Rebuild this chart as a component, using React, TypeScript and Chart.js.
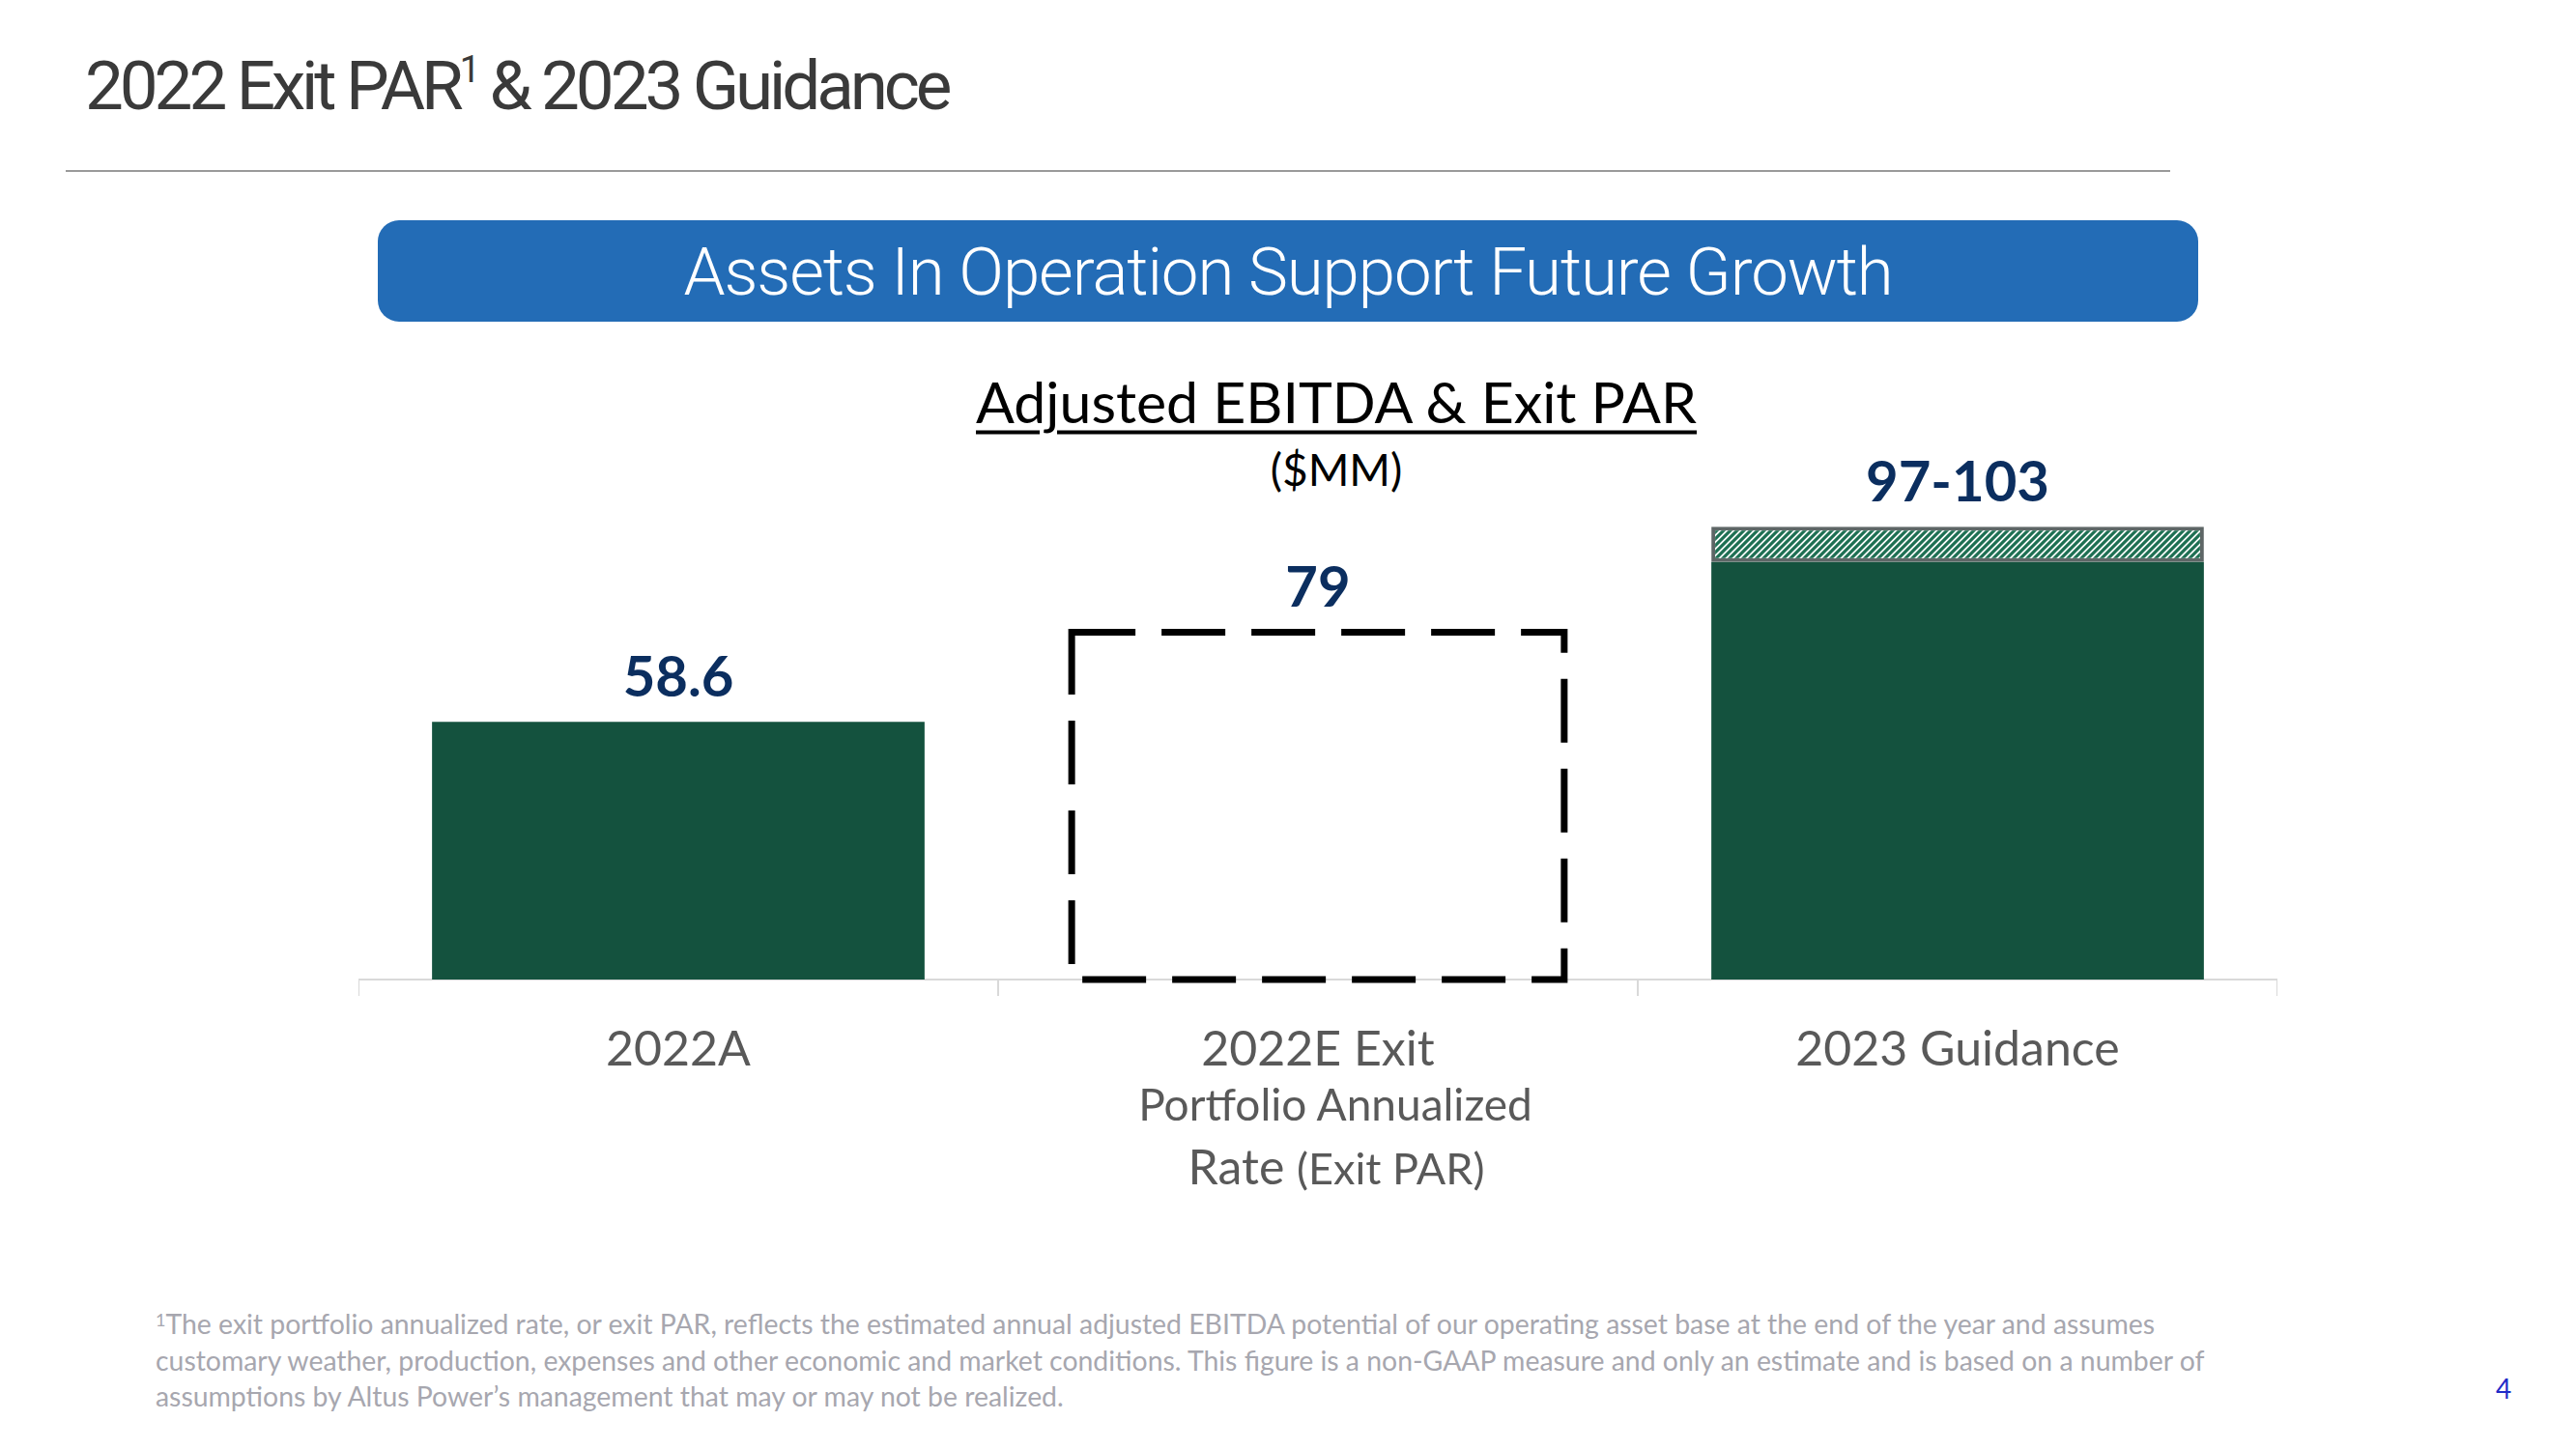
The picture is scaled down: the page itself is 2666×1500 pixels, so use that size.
import React, { useEffect, useRef } from "react";
import { Chart, registerables } from "chart.js";

Chart.register(...registerables);

// ---- data ----
const categories = ["2022A", "2022E Exit", "2023 Guidance"];
const adjustedEbitda: (number | null)[] = [58.6, null, 95];
const exitPar: (number | null)[] = [null, 79, null];
const guidanceRange: (number | null)[] = [null, null, 8]; // stacked on top, up to 103
const valueLabels = ["58.6", "79", "97-103"];
const yMax = 134.7;

const footnoteLines = [
  "The exit portfolio annualized rate, or exit PAR, reflects the estimated annual adjusted EBITDA potential of our operating asset base at the end of the year and assumes",
  "customary weather, production, expenses and other economic and market conditions. This figure is a non-GAAP measure and only an estimate and is based on a number of",
  "assumptions by Altus Power\u2019s management that may or may not be realized.",
];

const GREEN = "#14523E";
const NAVY = "#0B2E5F";

function makeHatch(): CanvasPattern | string {
  const s = 7;
  const c = document.createElement("canvas");
  c.width = s;
  c.height = s;
  const g = c.getContext("2d");
  if (!g) return "#2a7a5e";
  g.fillStyle = "#ffffff";
  g.fillRect(0, 0, s, s);
  g.strokeStyle = "#1d6f52";
  g.lineWidth = 3.2;
  g.beginPath();
  g.moveTo(-1, s + 1);
  g.lineTo(s + 1, -1);
  g.moveTo(-s / 2 - 1, s / 2 + 1);
  g.lineTo(s / 2 + 1, -s / 2 - 1);
  g.moveTo(s / 2 - 1, s * 1.5 + 1);
  g.lineTo(s * 1.5 + 1, s / 2 - 1);
  g.stroke();
  const p = g.createPattern(c, "repeat");
  return p || "#2a7a5e";
}

const dashedPlugin = {
  id: "dashedBar",
  afterDatasetsDraw(chart: any) {
    const meta = chart.getDatasetMeta(1);
    const ctx = chart.ctx;
    meta.data.forEach((el: any, i: number) => {
      if (exitPar[i] == null) return;
      const { x, y, base, width } = el.getProps(["x", "y", "base", "width"], true);
      ctx.save();
      ctx.strokeStyle = "#000000";
      ctx.lineWidth = 7;
      ctx.setLineDash([66, 27]);
      ctx.strokeRect(x - width / 2, y, width, base - y);
      ctx.restore();
    });
  },
};

const valueLabelPlugin = {
  id: "valueLabels",
  afterDatasetsDraw(chart: any) {
    const ctx = chart.ctx;
    categories.forEach((_, i) => {
      let top = Infinity;
      let cx = 0;
      chart.data.datasets.forEach((ds: any, di: number) => {
        if (ds.data[i] == null) return;
        const el = chart.getDatasetMeta(di).data[i];
        const p = el.getProps(["x", "y"], true);
        if (p.y < top) {
          top = p.y;
          cx = p.x;
        }
      });
      if (!isFinite(top)) return;
      ctx.save();
      ctx.fillStyle = NAVY;
      ctx.font = "bold 58px Lato";
      ctx.textAlign = "center";
      ctx.textBaseline = "middle";
      ctx.fillText(valueLabels[i], cx, top - 45);
      ctx.restore();
    });
  },
};

function BarChart() {
  const ref = useRef<HTMLCanvasElement | null>(null);
  useEffect(() => {
    if (!ref.current) return;
    const chart = new Chart(ref.current, {
      type: "bar",
      data: {
        labels: categories,
        datasets: [
          {
            label: "Adjusted EBITDA",
            data: adjustedEbitda,
            backgroundColor: GREEN,
            borderWidth: 0,
          },
          {
            label: "Exit PAR",
            data: exitPar,
            backgroundColor: "rgba(0,0,0,0)",
            borderWidth: 0,
          },
          {
            label: "Guidance range",
            data: guidanceRange,
            backgroundColor: makeHatch() as any,
            borderColor: "#5E6666",
            borderWidth: 4,
            borderSkipped: false,
          },
        ],
      },
      options: {
        animation: false,
        responsive: false,
        maintainAspectRatio: false,
        events: [],
        datasets: { bar: { barPercentage: 0.77, categoryPercentage: 1 } },
        layout: { padding: { left: 0, right: 0, top: 0, bottom: 0 } },
        plugins: {
          legend: { display: false },
          title: { display: false },
          tooltip: { enabled: false },
        },
        scales: {
          x: {
            stacked: true,
            grid: {
              display: true,
              drawOnChartArea: false,
              drawTicks: true,
              tickLength: 17,
              color: "#d9d9d9",
              lineWidth: 2,
              offset: true,
            },
            border: { display: true, color: "#d9d9d9", width: 2 },
            ticks: {
              color: "#595959",
              font: { family: "Lato", size: 50 },
              padding: 26,
              maxRotation: 0,
              autoSkip: false,
            },
          },
          y: { stacked: true, display: false, min: 0, max: yMax },
        },
      },
      plugins: [dashedPlugin, valueLabelPlugin],
    });
    return () => chart.destroy();
  }, []);
  return (
    <canvas
      ref={ref}
      width={1986}
      height={742}
      style={{ position: "absolute", left: 371, top: 401, width: 1986, height: 742 }}
    />
  );
}

const center = (x: number, y: number): React.CSSProperties => ({
  position: "absolute",
  left: x,
  top: y,
  transform: "translate(-50%, -50%)",
  whiteSpace: "nowrap",
  lineHeight: 1,
});

export default function App() {
  return (
    <div
      style={{
        position: "fixed",
        left: 0,
        top: 0,
        width: 2666,
        height: 1500,
        background: "#ffffff",
        overflow: "hidden",
      }}
    >
      {/* page title */}
      <div
        style={{
          position: "absolute",
          left: 88,
          top: 53,
          fontFamily: "Roboto",
          fontSize: 71,
          letterSpacing: -4.1,
          color: "#3a3a3a",
          whiteSpace: "nowrap",
          lineHeight: 1,
        }}
      >
        2022 Exit PAR<sup style={{ fontSize: 38, verticalAlign: 28 }}>1</sup> &amp; 2023 Guidance
      </div>
      {/* rule */}
      <div
        style={{
          position: "absolute",
          left: 68,
          top: 176,
          width: 2178,
          height: 2,
          background: "#9a9a9a",
        }}
      />
      {/* banner */}
      <div
        style={{
          position: "absolute",
          left: 391,
          top: 228,
          width: 1884,
          height: 105,
          background: "#236CB6",
          borderRadius: 22,
        }}
      />
      <div
        style={{
          ...center(1333, 281),
          fontFamily: "Roboto",
          fontWeight: 300,
          fontSize: 69,
          letterSpacing: -1.1,
          color: "#ffffff",
        }}
      >
        Assets In Operation Support Future Growth
      </div>
      {/* chart title */}
      <div
        style={{
          ...center(1383, 415),
          fontFamily: "Lato",
          fontSize: 59,
          color: "#000000",
          textDecoration: "underline",
          textDecorationThickness: 4,
          textUnderlineOffset: 8,
        }}
      >
        Adjusted EBITDA &amp; Exit PAR
      </div>
      <div style={{ ...center(1383, 486), fontFamily: "Lato", fontSize: 46, color: "#000000" }}>($MM)</div>

      <BarChart />

      {/* extra label lines for middle category */}
      <div style={{ ...center(1382, 1143), fontFamily: "Lato", fontSize: 46, color: "#595959" }}>
        Portfolio Annualized
      </div>
      <div style={{ ...center(1383, 1207), fontFamily: "Lato", color: "#595959" }}>
        <span style={{ fontSize: 50 }}>Rate </span>
        <span style={{ fontSize: 45 }}>(Exit PAR)</span>
      </div>

      {/* footnote */}
      {footnoteLines.map((t, i) => (
        <div
          key={i}
          style={{
            position: "absolute",
            left: 161,
            top: 1370 + i * 37.5,
            transform: "translateY(-50%)",
            fontFamily: "Lato",
            fontSize: 28.4,
            color: "#A7A7AF",
            whiteSpace: "nowrap",
            lineHeight: 1,
          }}
        >
          {i === 0 ? <sup style={{ fontSize: 18, verticalAlign: 8 }}>1</sup> : null}
          {t}
        </div>
      ))}
      <div style={{ ...center(2591, 1437), fontFamily: "Lato", fontSize: 28, color: "#1F2BC8" }}>4</div>
    </div>
  );
}
